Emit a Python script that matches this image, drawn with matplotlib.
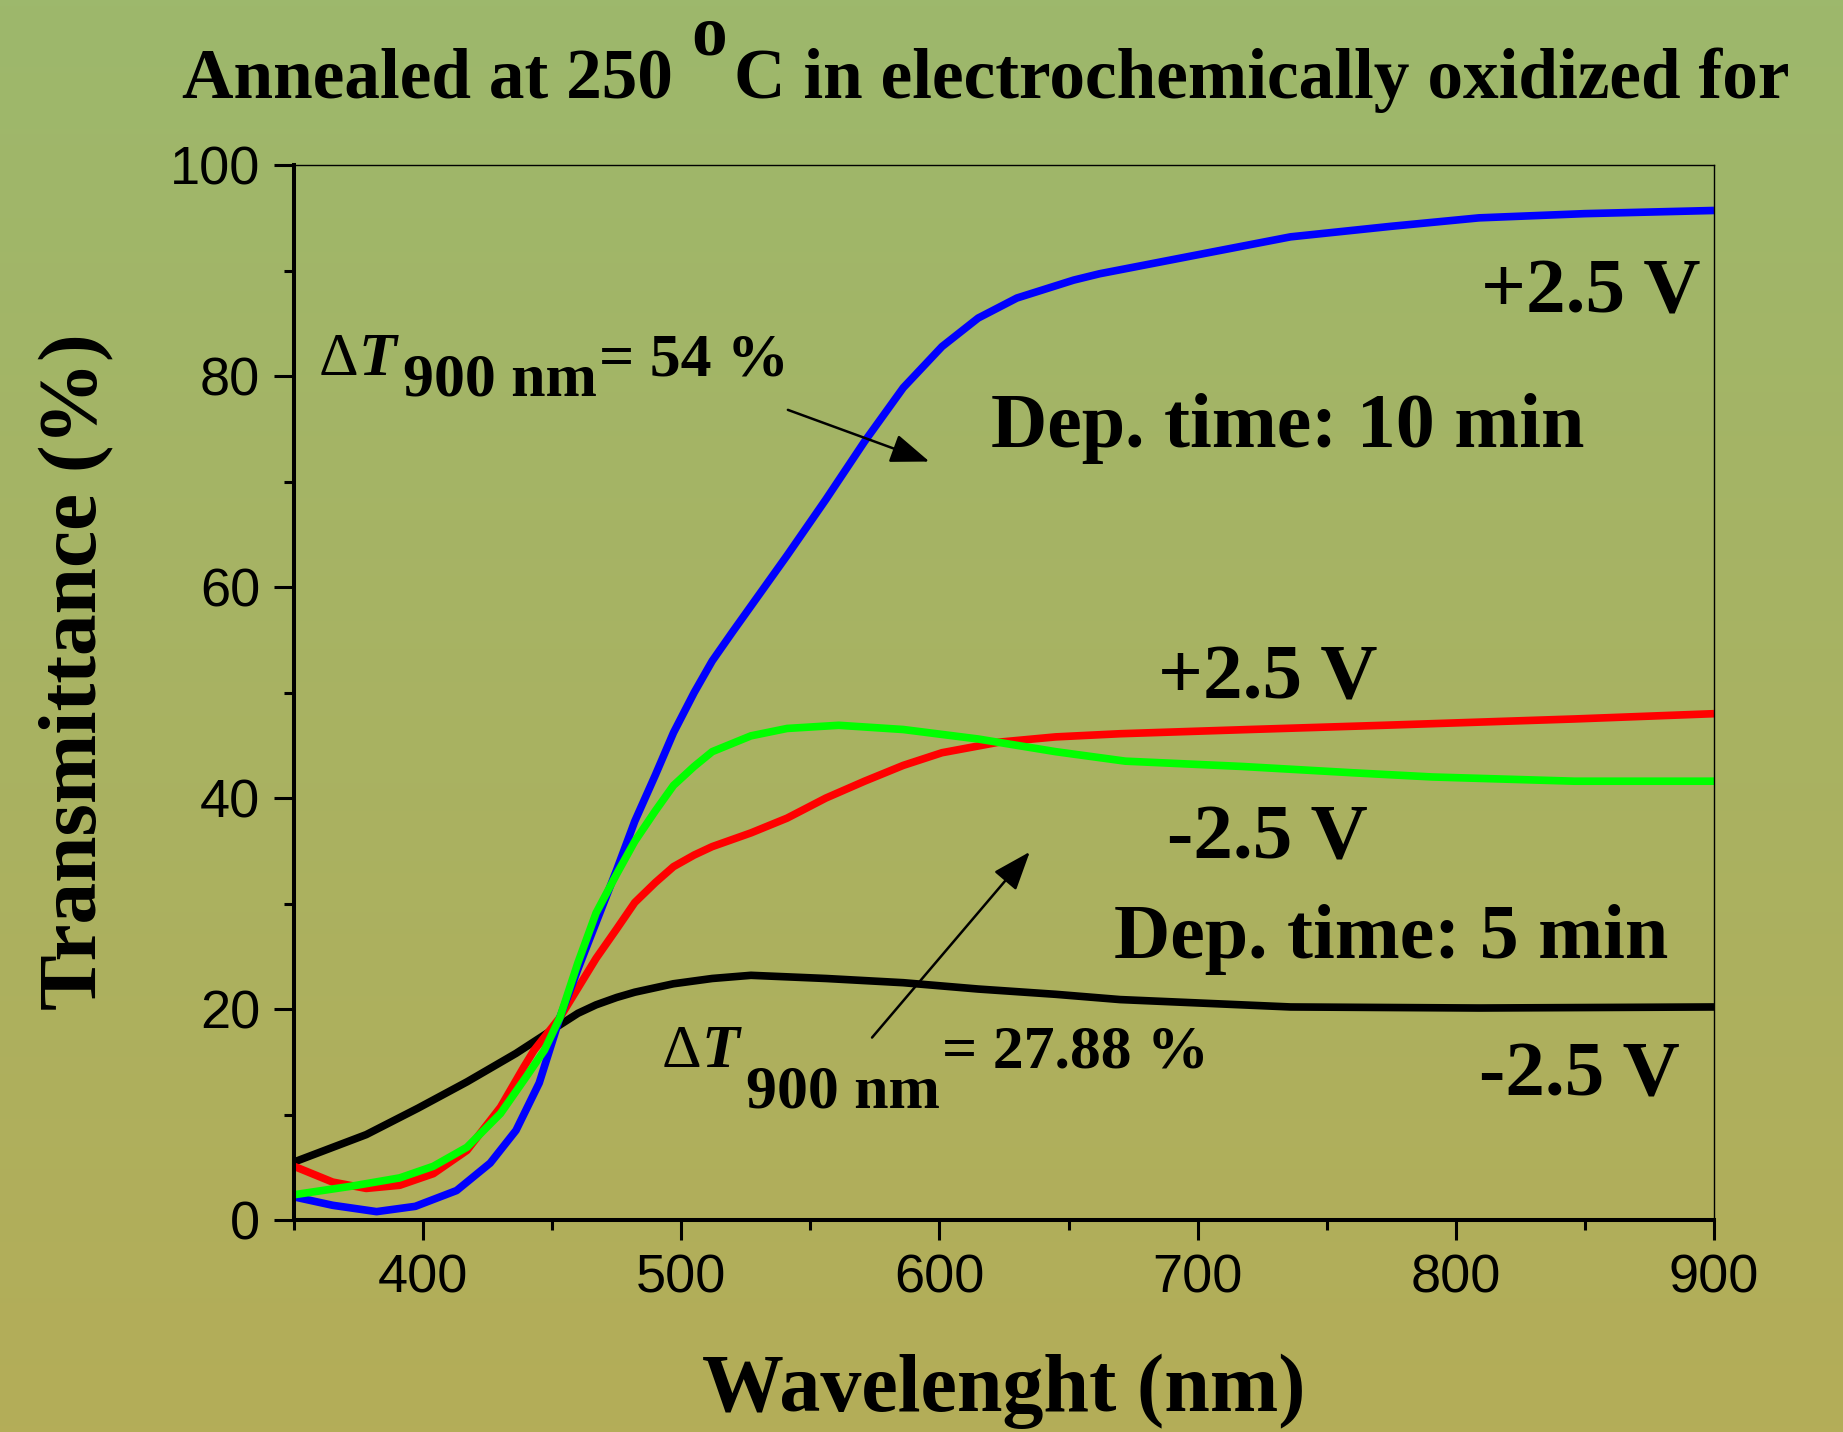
import numpy as np
import matplotlib
matplotlib.use("Agg")
import matplotlib.pyplot as plt
from matplotlib.colors import LinearSegmentedColormap

# +2.5 V, 10 min (blue)
wl_blue = [350, 365, 382, 397, 413, 426, 436, 445, 453, 460, 467, 475, 482, 490, 497, 505,
           512, 520, 527, 541, 556, 571, 586, 601, 615, 630, 652, 662, 700, 736, 775, 809,
           850, 900]
tr_blue = [2.2, 1.4, 0.8, 1.3, 2.8, 5.4, 8.5, 13.0, 19.2, 23.8, 28.2, 33.2, 37.8, 42.2, 46.2, 50.0,
           53.0, 55.8, 58.2, 63.0, 68.3, 73.8, 78.9, 82.8, 85.5, 87.4, 89.1, 89.7, 91.5, 93.2,
           94.2, 95.0, 95.4, 95.7]

# -2.5 V, 10 min (green)
wl_green = [350, 372, 391, 404, 417, 430, 440, 447, 453, 460, 467, 475, 482, 490, 497, 505,
            512, 527, 541, 561, 586, 615, 645, 672, 717, 760, 791, 846, 900]
tr_green = [2.4, 3.2, 4.0, 5.1, 6.9, 10.1, 13.6, 16.1, 19.2, 24.4, 29.1, 32.8, 35.9, 38.8, 41.2, 43.0,
            44.4, 45.9, 46.6, 46.9, 46.5, 45.6, 44.4, 43.5, 43.0, 42.4, 42.0, 41.6, 41.6]

# +2.5 V, 5 min (red)
wl_red = [350, 365, 378, 391, 404, 417, 430, 439, 443, 453, 460, 467, 475, 482, 490, 497, 505,
          512, 527, 541, 556, 571, 586, 601, 623, 645, 670, 720, 772, 846, 900]
tr_red = [5.1, 3.6, 3.0, 3.3, 4.4, 6.6, 10.7, 14.5, 16.1, 19.2, 22.0, 24.8, 27.6, 30.1, 32.0, 33.5,
          34.6, 35.4, 36.7, 38.1, 40.0, 41.6, 43.1, 44.3, 45.3, 45.8, 46.1, 46.5, 46.9, 47.5,
          48.0]

# -2.5 V, 5 min (black)
wl_black = [350, 378, 398, 417, 436, 453, 460, 467, 475, 482, 497, 512, 527, 556, 586, 615,
            645, 670, 736, 809, 900]
tr_black = [5.5, 8.1, 10.6, 13.1, 15.8, 18.5, 19.6, 20.4, 21.1, 21.6, 22.4, 22.9, 23.2, 22.9, 22.5,
            21.9, 21.4, 20.9, 20.2, 20.1, 20.2]

x_major = [400, 500, 600, 700, 800, 900]
x_minor = [350, 450, 550, 650, 750, 850]
y_major = [0, 20, 40, 60, 80, 100]
y_minor = [10, 30, 50, 70, 90]

serif = "Liberation Serif"
sans = "Liberation Sans"

fig = plt.figure(figsize=(18.43, 14.32), dpi=100)

# background gradient
bg = fig.add_axes([0, 0, 1, 1], zorder=-10)
cmap = LinearSegmentedColormap.from_list("bg", [(157/255, 184/255, 108/255),
                                                (180/255, 173/255, 88/255)])
bg.imshow(np.linspace(0, 1, 256)[:, None], aspect="auto", cmap=cmap,
          extent=[0, 1, 0, 1])
bg.axis("off")

ax = fig.add_axes([0.1595, 0.148, 0.7705, 0.7367])
ax.patch.set_alpha(0)

lw = 5.5
ax.plot(wl_black, tr_black, color="black", lw=lw, solid_capstyle="butt")
ax.plot(wl_red, tr_red, color="#ff0000", lw=lw, solid_capstyle="butt")
ax.plot(wl_blue, tr_blue, color="#0000ff", lw=lw, solid_capstyle="butt")
ax.plot(wl_green, tr_green, color="#00ff00", lw=lw, solid_capstyle="butt")

ax.set_xlim(350, 900)
ax.set_ylim(0, 100)
ax.set_xticks(x_major)
ax.set_xticks(x_minor, minor=True)
ax.set_yticks(y_major)
ax.set_yticks(y_minor, minor=True)
ax.tick_params(which="major", direction="out", length=14.4, width=2.2, pad=10,
               labelsize=39)
ax.tick_params(which="minor", direction="out", length=7.2, width=2.2)
for lab in ax.get_xticklabels() + ax.get_yticklabels():
    lab.set_fontfamily(sans)

ax.spines["left"].set_linewidth(2.9)
ax.spines["bottom"].set_linewidth(2.9)
ax.spines["top"].set_linewidth(1.0)
ax.spines["right"].set_linewidth(1.0)

ax.set_xlabel("Wavelenght (nm)", fontfamily=serif, fontweight="bold", fontsize=59)
ax.xaxis.set_label_coords(0.5, -0.181)
ax.xaxis.label.set_va("baseline")
ax.set_ylabel("Transmittance (%)", fontfamily=serif, fontweight="bold", fontsize=60)
ax.yaxis.set_label_coords(-0.139, 0.52)
ax.yaxis.label.set_va("baseline")

# title with raised "o"
tkw = dict(fontfamily=serif, fontweight="bold", fontsize=51.3)
t1 = fig.text(182 / 1843, 1 - 98 / 1432, "Annealed at 250", ha="left", va="baseline", **tkw)
t2 = ax.annotate("o", xy=(1, 0), xycoords=t1, xytext=(13, 31), textcoords="offset points",
                 ha="left", va="bottom", **tkw)
ax.annotate("C in electrochemically oxidized for", xy=(1, 0), xycoords=t2, xytext=(5, -31),
            textcoords="offset points", ha="left", va="bottom", **tkw)

bkw = dict(fontfamily=serif, fontweight="bold", fontsize=57)
dkw = dict(fontfamily=serif, fontweight="bold", fontsize=56.2)
ax.text(894.6, 86.0, "+2.5 V", ha="right", va="baseline", **bkw)
ax.text(620, 73.3, "Dep. time: 10 min", ha="left", va="baseline", **dkw)
ax.text(684.6, 49.4, "+2.5 V", ha="left", va="baseline", **bkw)
ax.text(688, 34.3, "-2.5 V", ha="left", va="baseline", **bkw)
ax.text(667.6, 24.8, "Dep. time: 5 min", ha="left", va="baseline", **dkw)
ax.text(809, 11.8, "-2.5 V", ha="left", va="baseline", **bkw)


def delta_label(x, y, value, drop):
    fs = 44.5
    d = ax.text(x, y, "\u0394", ha="left", va="baseline", fontfamily=serif, fontsize=fs)
    t = ax.annotate("T", xy=(1, 0), xycoords=d, xytext=(0, 0), textcoords="offset points",
                    ha="left", va="bottom", fontfamily=serif, fontstyle="italic",
                    fontweight="bold", fontsize=fs)
    s = ax.annotate("900 nm", xy=(1, 0), xycoords=t, xytext=(5, -drop),
                    textcoords="offset points", ha="left", va="bottom",
                    fontfamily=serif, fontweight="bold", fontsize=fs)
    ax.annotate(value, xy=(1, 0), xycoords=s, xytext=(1, drop),
                textcoords="offset points", ha="left", va="bottom",
                fontfamily=serif, fontweight="bold", fontsize=fs)


delta_label(359.7, 80.1, "= 54 %", 15)
delta_label(492.5, 14.5, "= 27.88 %", 29)

akw = dict(arrowstyle="-|>,head_length=0.8,head_width=0.3", color="black", lw=1.8,
           mutation_scale=30, shrinkA=0, shrinkB=0)
ax.annotate("", xy=(596.1, 71.9), xytext=(541.3, 76.8), arrowprops=akw)
ax.annotate("", xy=(635.0, 34.9), xytext=(573.9, 17.3), arrowprops=akw)

fig.savefig("out.png", dpi=100)
